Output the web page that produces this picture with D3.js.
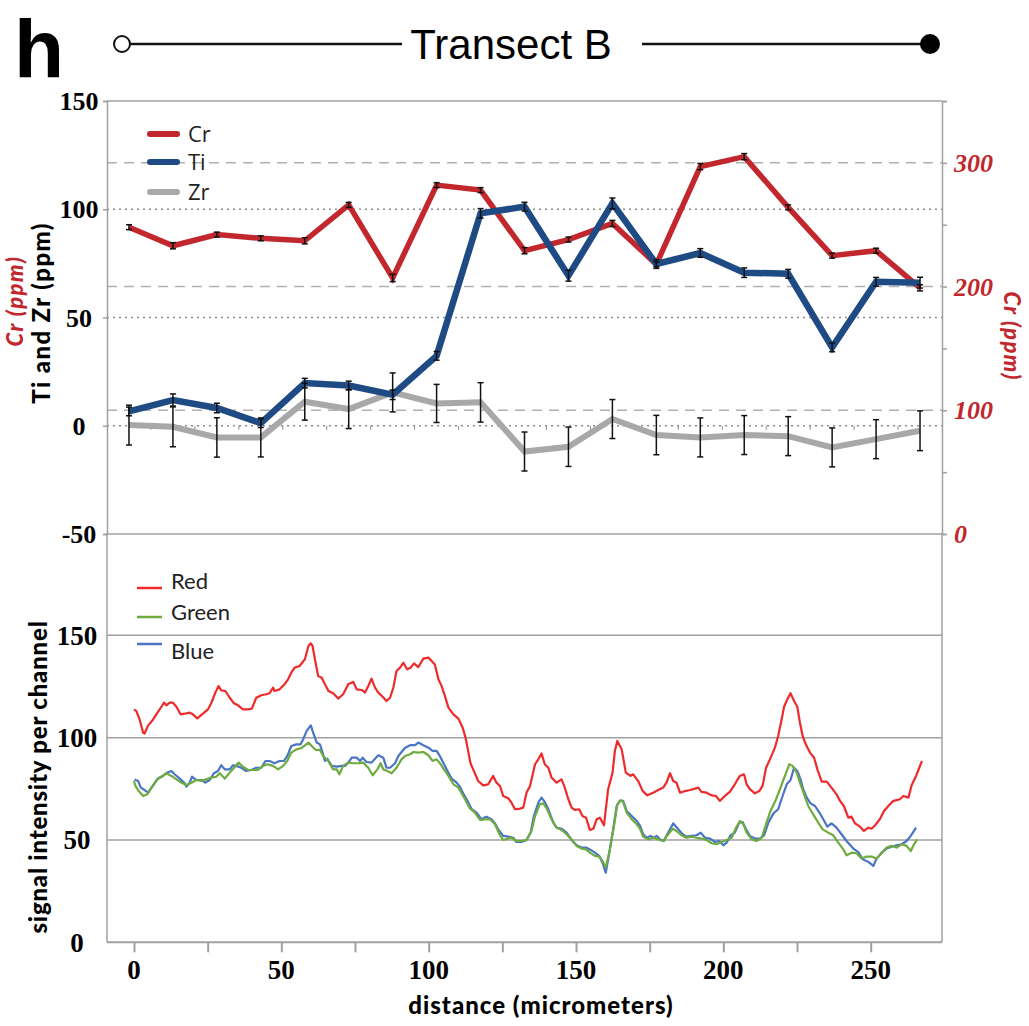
<!DOCTYPE html>
<html>
<head>
<meta charset="utf-8">
<script src="https://cdn.jsdelivr.net/npm/d3@7"></script>
<style>
  body { margin: 0; background: #fff; }
</style>
</head>
<body>
<div id="canvas"></div>
<script>
// ---- data: top panel (Transect B, ppm) ----
const points = d3.range(1, 20);
const crValues = [248, 233, 242, 239, 237, 266, 207, 282, 278, 229, 238, 251, 218, 297, 305, 264, 225, 229, 199];
const crErrors = [2, 2.5, 2, 2, 2.5, 2, 3, 2, 2, 2.5, 2, 2.5, 2, 2.5, 2.5, 2, 2, 2, 2.5];
const tiValues = [6.6, 11.9, 8.2, 1.2, 19.7, 18.6, 14.3, 32.3, 98.1, 101.2, 69.3, 102.7, 74.7, 79.8, 70.7, 70.2, 36.2, 66.5, 66.1];
const tiErrors = [2, 2.8, 2.2, 2, 2.2, 2, 2.2, 2, 2.2, 2, 2.5, 2.5, 2, 2, 2.2, 2, 2, 2, 2.5];
const zrValues = [0.3, -0.5, -5.4, -5.4, 11.1, 7.7, 15.4, 10.3, 10.8, -11.9, -9.7, 3.1, -4.3, -5.4, -4.3, -4.8, -10, -6.2, -2.3];
const zrErrors = [9.2, 9.2, 9.1, 9, 8.5, 9, 9, 8.8, 9.1, 9, 9.1, 9, 9.1, 9, 9, 9, 9, 9, 9.2];
const leftTicks = [150, 100, 50, 0, -50];
const rightTicks = [0, 50, 100, 150, 200, 250, 300, 350];
const rightLabels = [0, 100, 200, 300];

// ---- data: bottom panel (signal intensity per channel) ----
const redDist = [0, 0.8, 1.9, 3.1, 3.6, 4.8, 6.1, 7.6, 9.3, 10.2, 11, 12.1, 13.2, 14.4, 15.8, 17.2, 18.9, 20, 21.5, 23.1, 25.1, 26.2, 27.6, 28.7, 29.6, 31, 32.5, 33.9, 35.3, 37, 38.7, 40, 41.5, 43.2, 44.9, 46, 47.2, 47.7, 49.4, 51.1, 52.3, 53.4, 54.5, 56.2, 58, 59.2, 60, 60.6, 61.4, 62.5, 63.7, 64.8, 66, 67.6, 69.3, 71, 72.7, 74.4, 75.6, 77.3, 78.4, 79.5, 80.6, 81.8, 82.9, 84.4, 85.7, 86.9, 88, 89.1, 90.3, 91.4, 92.7, 93.9, 95, 96.5, 98.2, 99.9, 101, 102.1, 103.3, 104.4, 105.5, 106.7, 108.4, 110.1, 111.5, 112.6, 113.5, 114.2, 115.1, 116.8, 118.5, 120.2, 121.9, 123, 124.2, 125.3, 127, 128.1, 129.3, 131, 132.1, 133.2, 134.4, 136.1, 137.2, 138.3, 139.4, 140.6, 141.7, 143.4, 145.1, 146.2, 147.4, 148.5, 149.6, 151.1, 152.2, 153.4, 154.7, 155.9, 157, 158.1, 159.5, 160.9, 162.4, 163.2, 164, 165.5, 166.9, 168.5, 169.4, 171.1, 172.6, 174.2, 176.2, 177.9, 179.6, 180.7, 181.9, 183, 184.1, 185.3, 187, 188.7, 190.4, 191.5, 192.6, 194.3, 196, 197.5, 198.8, 200.5, 202.2, 203.9, 205.6, 207, 207.9, 209, 210.7, 212.2, 213.3, 214.5, 215.8, 217.5, 218.6, 219.8, 220.6, 221.7, 222.8, 224, 225.1, 226, 226.9, 228, 229.4, 230.8, 231.9, 233.4, 235.1, 236.7, 238.4, 239.6, 240.9, 242.4, 243.5, 244.7, 246.4, 247.7, 249.2, 250.3, 251.5, 253.1, 254.5, 256, 257.7, 258.8, 259.9, 261.1, 262.8, 263.9, 265.4, 266.5, 267.4];
const redValues = [113.8, 113, 108.9, 102.4, 102, 106, 108.1, 111.4, 115.1, 117.1, 115.8, 117.1, 117.1, 115.1, 111.4, 111.7, 112.2, 111.4, 109.4, 111.4, 113.8, 116.8, 122, 125.2, 123.1, 122.8, 119.5, 116.8, 115.8, 113.8, 113.8, 114.2, 119.5, 120.7, 121.2, 121.7, 124.4, 122.8, 123.6, 126.1, 128.5, 131.8, 134.2, 135, 138.3, 144.8, 146.1, 144.8, 138.3, 130.1, 129.3, 126.1, 122.8, 121.7, 119.1, 121.2, 126.1, 127.2, 123.6, 123.3, 122, 125.2, 128.8, 124.4, 122, 120, 117.9, 119.5, 124.4, 132.6, 134.2, 136.6, 133.4, 134.2, 136.3, 134.5, 138.6, 139.1, 137.5, 135.8, 128.5, 125.2, 120.4, 114.7, 111.4, 109.3, 105, 99.5, 92.7, 87.5, 84.5, 78.8, 76.7, 77.2, 81.3, 78, 76.4, 71.5, 70.4, 68.2, 65, 65.3, 65.8, 73.1, 76.4, 87, 89.4, 92.3, 87, 85.3, 80.5, 78, 79.6, 75.6, 69.9, 65.8, 64.7, 65, 61.7, 60.9, 54.9, 55.5, 60.1, 60.9, 57.2, 74.8, 82.9, 93.5, 98.4, 94.3, 82.9, 81.3, 82.1, 78.8, 74, 71.8, 73.1, 74.4, 75.6, 78, 82.6, 78.8, 78, 73.1, 73.9, 74.4, 75.1, 75.6, 73.5, 73.1, 71.8, 71.5, 69.1, 71.5, 73.5, 77.2, 81.3, 82.1, 77.2, 74.8, 72.8, 73.9, 76.4, 85.3, 89.4, 95.1, 100.8, 109, 115.1, 118.7, 121.7, 117.9, 115.1, 107.3, 100.8, 96.7, 92.7, 90.2, 84.5, 78.5, 78.5, 75.6, 72.3, 69.1, 66.6, 60.9, 61.4, 58.1, 56.5, 54.4, 56, 55.5, 57.2, 60.1, 64.2, 66.6, 69.1, 69.5, 69.9, 71.5, 70.7, 76.7, 81.3, 85.3, 88.6];

const greenDist = [0, 0.5, 1.6, 3.1, 4.5, 5.9, 7.6, 9.3, 11, 12.7, 14.4, 16.1, 17.8, 19.5, 21.2, 22.9, 24.5, 26.2, 27.9, 29.1, 30.8, 32.5, 34.2, 35.5, 37, 38.7, 40.4, 42.1, 43.8, 45.2, 47.2, 48.9, 50.6, 52, 53.4, 55.1, 56.6, 57.7, 59.2, 60.3, 61.7, 63.1, 64.2, 65.9, 67.6, 68.8, 69.7, 71, 72.7, 74.4, 76.1, 77.8, 79.5, 81, 82.6, 83.7, 84.6, 86, 87.4, 89.1, 90.8, 92, 93.7, 94.8, 96.5, 98.2, 99.9, 101.3, 102.7, 103.8, 105.2, 106.7, 108.4, 110.1, 111.9, 113.9, 115.7, 117.4, 119.1, 120.8, 122.5, 124.2, 125.3, 127, 128.1, 129.8, 131.5, 133.2, 134.9, 136.1, 137.7, 138.9, 140.2, 141.7, 143.4, 145.1, 146.8, 148.5, 150.2, 151.9, 153.4, 154.7, 156.4, 157.9, 159, 160.1, 161.5, 162.9, 164, 165.1, 166, 167.2, 168.9, 170.6, 171.7, 172.8, 174.5, 176.2, 177.9, 179.6, 181.3, 182.8, 184.1, 185.8, 187.5, 189.2, 190.9, 192.6, 194.3, 196, 197.7, 199.4, 201.1, 202.8, 204.3, 205.6, 206.8, 207.9, 209.6, 211.3, 213, 214.5, 216, 217.9, 219.4, 220.9, 222.4, 223.5, 224.9, 226, 227.4, 228.8, 230.5, 232.2, 233.7, 235.6, 237.3, 239, 240.7, 241.8, 243.5, 245.2, 246.9, 248.6, 250.3, 252, 253.7, 255.4, 257.1, 258.8, 260.5, 262.2, 263.6, 264.7, 265.8];
const greenValues = [78.8, 76.4, 73.9, 71.5, 72.3, 75.6, 79.2, 80.9, 82.6, 81.3, 79.6, 78, 76.9, 78, 79.3, 78.8, 79.6, 80.5, 80.9, 82.6, 80, 82.9, 85.7, 87.8, 85.8, 84.2, 84.2, 84.2, 86.2, 87, 86.2, 84.5, 86.2, 88.6, 92.7, 94.3, 94.8, 95.9, 97.6, 95.9, 94, 94, 91, 88.6, 84.5, 84.5, 82.1, 86.2, 87.8, 87.5, 87.5, 87.8, 85.3, 81.6, 84.5, 87.5, 84.5, 83.7, 82.6, 85.3, 89.4, 91, 91.9, 93, 92.7, 93, 91.4, 88.6, 89.4, 87.5, 84.5, 81.3, 77.2, 75.6, 71, 65.6, 63.4, 59.8, 60.1, 60.1, 57.7, 52.3, 50, 50.7, 51.1, 49.5, 49.5, 50, 54.4, 61.7, 67.4, 67.9, 65, 60.1, 56, 54.9, 52.8, 50.3, 47.1, 45.8, 45.4, 43.8, 42.2, 41.9, 39.7, 36.5, 45.4, 56.8, 67.4, 69.5, 68.6, 63.4, 60.1, 57.7, 55.5, 51.6, 50.3, 51.1, 50.3, 49.5, 52.8, 55.5, 54.4, 52.3, 51.1, 51.6, 51.1, 50.7, 50, 48.4, 47.9, 49, 50, 51.1, 56, 59.3, 57.7, 53.6, 50.3, 49.5, 51.1, 57.7, 64.2, 69.9, 75.6, 81.3, 87, 86.2, 82.9, 78, 72.3, 66.6, 62.5, 58.5, 55.2, 53.6, 52.3, 48.7, 45.4, 42.5, 43.8, 43.5, 40.9, 41.9, 41.9, 40.9, 43.5, 46.3, 47.1, 46.3, 47.9, 47.1, 44.6, 47.9, 50.3];

const blueDist = [0.2, 1.4, 2.3, 3.6, 4.8, 6.4, 8.1, 9.8, 11.3, 12.7, 13.8, 15.5, 17, 17.8, 18.9, 19.7, 21.2, 22.9, 24.2, 25.7, 27.1, 28.5, 29.6, 30.8, 32.5, 33.6, 34.7, 36.4, 38.1, 39.8, 41.5, 43.2, 44.6, 46, 47.7, 49.4, 50.9, 52, 53.4, 55.1, 56.5, 57.5, 58.6, 60, 60.8, 62, 63.1, 64, 64.8, 65.6, 67.1, 68.8, 70.5, 71.6, 72.7, 73.9, 75.6, 76.7, 77.6, 78.9, 80.6, 81.8, 82.9, 84.6, 85.7, 86.9, 88.6, 89.7, 90.8, 92, 93.7, 95.4, 96.5, 98.2, 99.9, 101.3, 102.7, 103.8, 105.2, 106.7, 107.8, 109.5, 110.6, 111.8, 112.9, 114.6, 116.3, 117.9, 119.6, 121.3, 122.5, 123.6, 125.3, 127, 128.7, 129.8, 131.5, 133.2, 134.6, 135.7, 137.2, 138.3, 139.4, 140.6, 142.3, 143.4, 145.1, 146.8, 148.5, 150.2, 151.9, 153.4, 154.7, 156.4, 157.9, 159, 160.1, 161.3, 162.6, 163.8, 164.9, 166, 167.2, 168.9, 170.6, 171.7, 172.8, 174, 175.3, 176.4, 177.4, 178.5, 179.8, 181.3, 183, 184.7, 186.2, 187.5, 189.2, 190.9, 192.3, 193.8, 195.5, 197.2, 198.6, 200, 201.1, 202.5, 203.9, 205.4, 206.5, 207.7, 209, 210.7, 212.4, 213.8, 215.3, 217, 218.6, 220.1, 221.5, 222.8, 224, 225.1, 226.2, 227.1, 228.3, 229.6, 231.1, 232.6, 233.9, 235.3, 236.7, 238.4, 240.1, 241.8, 244.1, 245.8, 247.3, 249.2, 250.9, 252, 253.7, 255.4, 257.1, 258.8, 260.5, 262.2, 263.6, 265.4];
const blueValues = [79.6, 78.8, 75.6, 74.4, 73.1, 76.4, 80, 81.3, 82.9, 83.7, 82.1, 80, 78, 76.1, 78, 80.9, 79.3, 79.3, 78, 79.3, 82.6, 83.7, 86.5, 84.5, 84.5, 86.5, 86.2, 85.3, 83.7, 84.2, 85.3, 85.3, 88.6, 88.6, 87.5, 88.6, 88.6, 91, 95.9, 96.7, 96.7, 99.5, 103.3, 106, 102.4, 97.6, 96.7, 92.7, 88.6, 89.7, 86.2, 85.8, 86.2, 86.2, 87.8, 90.2, 90.2, 88.6, 90.2, 88.1, 87.8, 89.7, 91.4, 90.2, 85.3, 85.3, 87.5, 91, 93, 95.1, 96.3, 96.3, 97.6, 96.3, 95.1, 93.5, 93.5, 91, 87, 82.9, 80, 78, 76, 72.5, 69.9, 65, 63.4, 60.1, 61.4, 60.1, 58.1, 55.2, 52, 51.6, 51.1, 49, 49, 50, 53.6, 61.7, 68.2, 70.7, 68.6, 65, 58.5, 56, 55.5, 53.6, 50, 47.4, 46.3, 46.3, 45.4, 43.8, 42.2, 38.9, 34, 43.8, 55.2, 66.6, 69.1, 69.1, 64.2, 61.7, 59.3, 57, 52.8, 51.1, 52, 51.1, 52, 50.3, 49.5, 53.6, 58.1, 55.2, 52.8, 51.6, 52, 52.3, 53.6, 51.1, 50.7, 49, 49.5, 47.4, 48.7, 52.3, 53.6, 58.5, 58.8, 55.2, 52, 50.7, 50.7, 52.3, 58.5, 63, 65, 71.5, 77.2, 79.3, 85.3, 83.7, 79.6, 74.8, 70.7, 67.9, 66.6, 63.4, 60.1, 56.5, 58.1, 56, 52.8, 49.5, 45.8, 44.1, 40.6, 39.3, 37.3, 40.9, 43.8, 45.8, 46.7, 47.4, 47.9, 49.5, 52, 56];
const bottomTicks = [0, 50, 100, 150];
const distanceTicks = [0, 25, 50, 75, 100, 125, 150, 175, 200, 225, 250];
const distanceLabels = [0, 50, 100, 150, 200, 250];

// ---- layout ----
const W = 1029, H = 1026;
const plotLeft = 107, plotRight = 942;
const gridGrey = '#a0a0a0';
const crRed = '#c1272d';
const serif = '"Liberation Serif", "DejaVu Serif", serif';
const sans = 'Lato, "Open Sans", sans-serif';

const svg = d3.select('#canvas').append('svg')
    .attr('width', W)
    .attr('height', H)
    .style('background', '#fff');

// scales
const xCat = d3.scalePoint().domain(points).range([plotLeft, plotRight]).padding(0.5);
const yLeft = d3.scaleLinear().domain([-50, 150]).range([534, 101]);
const yRight = d3.scaleLinear().domain([0, 350]).range([534, 101]);
const xDist = d3.scaleLinear().domain([-9.16, 274.2]).range([plotLeft, plotRight]);
const yBottom = d3.scaleLinear().domain([0, 200]).range([942.3, 533]);

// ---- header ----
svg.append('text')
    .attr('x', 14).attr('y', 77)
    .attr('font-family', '"Liberation Sans", Arial, sans-serif')
    .attr('font-weight', 'bold')
    .attr('font-size', 82)
    .text('h');

svg.append('line').attr('x1', 130).attr('x2', 402).attr('y1', 44).attr('y2', 44)
    .attr('stroke', '#111').attr('stroke-width', 2.5);
svg.append('line').attr('x1', 642).attr('x2', 924).attr('y1', 44).attr('y2', 44)
    .attr('stroke', '#111').attr('stroke-width', 2.5);
svg.append('circle').attr('cx', 122).attr('cy', 44).attr('r', 8)
    .attr('fill', '#fff').attr('stroke', '#111').attr('stroke-width', 2);
svg.append('circle').attr('cx', 930).attr('cy', 44).attr('r', 10).attr('fill', '#000');
svg.append('text')
    .attr('x', 511).attr('y', 59)
    .attr('text-anchor', 'middle')
    .attr('font-family', '"Liberation Sans", Arial, sans-serif')
    .attr('font-size', 42)
    .text('Transect B');

// ---- top panel grid and frame ----
const topPanel = svg.append('g');

topPanel.selectAll('.dotted').data([100, 50, 0]).join('line')
    .attr('x1', plotLeft).attr('x2', plotRight)
    .attr('y1', d => yLeft(d)).attr('y2', d => yLeft(d))
    .attr('stroke', '#8c8c8c').attr('stroke-width', 1.3)
    .attr('stroke-dasharray', '2,4');

topPanel.selectAll('.dashed').data([300, 200, 100]).join('line')
    .attr('x1', plotLeft).attr('x2', plotRight)
    .attr('y1', d => yRight(d)).attr('y2', d => yRight(d))
    .attr('stroke', '#b0b0b0').attr('stroke-width', 1.5)
    .attr('stroke-dasharray', '10,7');

topPanel.append('line').attr('x1', plotLeft).attr('x2', plotRight)
    .attr('y1', yLeft(150)).attr('y2', yLeft(150))
    .attr('stroke', gridGrey).attr('stroke-width', 1.5);
topPanel.append('line').attr('x1', plotLeft).attr('x2', plotRight)
    .attr('y1', yLeft(-50)).attr('y2', yLeft(-50))
    .attr('stroke', gridGrey).attr('stroke-width', 1.5);

// small category ticks on the zero line
const boundaries = points.slice(0, -1).map(p => xCat(p) + xCat.step() / 2);
topPanel.selectAll('.cattick').data(boundaries).join('line')
    .attr('x1', d => d).attr('x2', d => d)
    .attr('y1', yLeft(0)).attr('y2', yLeft(0) + 4)
    .attr('stroke', '#8c8c8c').attr('stroke-width', 1);

// left axis
const leftAxis = d3.axisLeft(yLeft).tickValues(leftTicks).tickSize(4).tickFormat('');
topPanel.append('g').attr('transform', `translate(${plotLeft},0)`).call(leftAxis)
    .call(g => g.selectAll('line, path').attr('stroke', gridGrey).attr('stroke-width', 1.5));
topPanel.selectAll('.lefttick').data(leftTicks).join('text')
    .attr('x', 79).attr('y', d => yLeft(d))
    .attr('dy', '0.35em')
    .attr('text-anchor', 'middle')
    .attr('font-family', serif).attr('font-weight', 'bold').attr('font-size', 26)
    .text(d => d);

// right axis
const rightAxis = d3.axisRight(yRight).tickValues(rightTicks).tickSize(5).tickFormat('');
topPanel.append('g').attr('transform', `translate(${plotRight},0)`).call(rightAxis)
    .call(g => g.selectAll('line, path').attr('stroke', gridGrey).attr('stroke-width', 1.5));
topPanel.selectAll('.righttick').data(rightLabels).join('text')
    .attr('x', 954).attr('y', d => yRight(d))
    .attr('dy', '0.35em')
    .attr('fill', crRed)
    .attr('font-family', serif).attr('font-weight', 'bold').attr('font-style', 'italic')
    .attr('font-size', 26)
    .text(d => d);

// axis titles
svg.append('text')
    .attr('transform', 'translate(50,313) rotate(-90)')
    .attr('text-anchor', 'middle')
    .attr('font-family', sans).attr('font-weight', 900).attr('font-size', 24)
    .attr('letter-spacing', 1.4)
    .text('Ti and Zr (ppm)');
svg.append('text')
    .attr('transform', 'translate(23,301) rotate(-90)')
    .attr('text-anchor', 'middle')
    .attr('fill', crRed)
    .attr('font-family', sans).attr('font-weight', 900).attr('font-style', 'italic').attr('font-size', 22)
    .attr('letter-spacing', 1.5)
    .text('Cr (ppm)');
svg.append('text')
    .attr('transform', 'translate(1004,336) rotate(90)')
    .attr('text-anchor', 'middle')
    .attr('fill', crRed)
    .attr('font-family', sans).attr('font-weight', 900).attr('font-style', 'italic').attr('font-size', 22)
    .attr('letter-spacing', 1.3)
    .text('Cr (ppm)');

// ---- top panel series ----
function drawSeries(values, yScale, color, width) {
    const line = d3.line()
        .x((d, i) => xCat(points[i]))
        .y(d => yScale(d));
    topPanel.append('path')
        .datum(values)
        .attr('d', line)
        .attr('fill', 'none')
        .attr('stroke', color)
        .attr('stroke-width', width)
        .attr('stroke-linejoin', 'miter');
}

function drawErrors(values, errors, yScale) {
    const g = topPanel.append('g').attr('stroke', '#111').attr('stroke-width', 1.5);
    values.forEach((v, i) => {
        const x = xCat(points[i]);
        const y1 = yScale(v - errors[i]);
        const y2 = yScale(v + errors[i]);
        g.append('line').attr('x1', x).attr('x2', x).attr('y1', y1).attr('y2', y2);
        g.append('line').attr('x1', x - 3).attr('x2', x + 3).attr('y1', y1).attr('y2', y1);
        g.append('line').attr('x1', x - 3).attr('x2', x + 3).attr('y1', y2).attr('y2', y2);
    });
}

drawSeries(crValues, yRight, crRed, 5.5);
drawSeries(zrValues, yLeft, '#a8a8a8', 6);
drawSeries(tiValues, yLeft, '#1f4b85', 6.5);
drawErrors(crValues, crErrors, yRight);
drawErrors(zrValues, zrErrors, yLeft);
drawErrors(tiValues, tiErrors, yLeft);

// top legend
const topLegend = [
    { name: 'Cr', color: crRed, y: 134 },
    { name: 'Ti', color: '#1f4b85', y: 162 },
    { name: 'Zr', color: '#a8a8a8', y: 192 }
];
topLegend.forEach(d => {
    svg.append('line').attr('x1', 150).attr('x2', 177).attr('y1', d.y).attr('y2', d.y)
        .attr('stroke', d.color).attr('stroke-width', 6).attr('stroke-linecap', 'round');
    svg.append('text').attr('x', 188).attr('y', d.y + 8)
        .attr('font-family', '"Open Sans", sans-serif').attr('font-size', 22)
        .attr('fill', '#222')
        .text(d.name);
});

// ---- bottom panel ----
const bottomPanel = svg.append('g');

bottomPanel.selectAll('.hgrid').data([50, 100, 150]).join('line')
    .attr('x1', plotLeft).attr('x2', plotRight)
    .attr('y1', d => yBottom(d)).attr('y2', d => yBottom(d))
    .attr('stroke', gridGrey).attr('stroke-width', 1.5);

// frame: left axis, right side
bottomPanel.append('line').attr('x1', plotLeft).attr('x2', plotLeft)
    .attr('y1', yBottom(200)).attr('y2', yBottom(0))
    .attr('stroke', gridGrey).attr('stroke-width', 1.5);
bottomPanel.append('line').attr('x1', plotRight).attr('x2', plotRight)
    .attr('y1', yBottom(200)).attr('y2', yBottom(0))
    .attr('stroke', gridGrey).attr('stroke-width', 1.5);

const xAxis = d3.axisBottom(xDist).tickValues(distanceTicks).tickSize(10).tickFormat('');
bottomPanel.append('g').attr('transform', `translate(0,${yBottom(0)})`).call(xAxis)
    .call(g => g.select('.domain').attr('d', `M${plotLeft},0H${plotRight}`))
    .call(g => g.selectAll('line, path').attr('stroke', gridGrey).attr('stroke-width', 2));

bottomPanel.selectAll('.xlabel').data(distanceLabels).join('text')
    .attr('x', d => xDist(d)).attr('y', 979)
    .attr('text-anchor', 'middle')
    .attr('font-family', serif).attr('font-weight', 'bold').attr('font-size', 27)
    .text(d => d);

bottomPanel.selectAll('.ylabel').data(bottomTicks).join('text')
    .attr('x', 77).attr('y', d => yBottom(d))
    .attr('dy', '0.35em')
    .attr('text-anchor', 'middle')
    .attr('font-family', serif).attr('font-weight', 'bold').attr('font-size', 27)
    .text(d => d);

svg.append('text')
    .attr('x', 541).attr('y', 1014)
    .attr('text-anchor', 'middle')
    .attr('font-family', sans).attr('font-weight', 900).attr('font-size', 24)
    .attr('letter-spacing', 1)
    .text('distance (micrometers)');
svg.append('text')
    .attr('transform', 'translate(47,777) rotate(-90)')
    .attr('text-anchor', 'middle')
    .attr('font-family', sans).attr('font-weight', 900).attr('font-size', 24)
    .attr('letter-spacing', 0.8)
    .text('signal intensity per channel');

function drawChannel(dist, values, color) {
    const line = d3.line()
        .x((d, i) => xDist(dist[i]))
        .y(d => yBottom(d));
    bottomPanel.append('path')
        .datum(values)
        .attr('d', line)
        .attr('fill', 'none')
        .attr('stroke', color)
        .attr('stroke-width', 2.2)
        .attr('stroke-linejoin', 'round');
}

drawChannel(redDist, redValues, '#ee2a2a');
drawChannel(blueDist, blueValues, '#4a74c4');
drawChannel(greenDist, greenValues, '#6eac3f');

// bottom legend
const bottomLegend = [
    { name: 'Red', color: '#ee2a2a', y: 588, ty: 589 },
    { name: 'Green', color: '#6eac3f', y: 617, ty: 620 },
    { name: 'Blue', color: '#4a74c4', y: 644, ty: 659 }
];
bottomLegend.forEach(d => {
    svg.append('line').attr('x1', 137).attr('x2', 162).attr('y1', d.y).attr('y2', d.y)
        .attr('stroke', d.color).attr('stroke-width', 2.5);
    svg.append('text').attr('x', 171).attr('y', d.ty)
        .attr('font-family', sans).attr('font-size', 22)
        .attr('fill', '#222')
        .text(d.name);
});
</script>
</body>
</html>
